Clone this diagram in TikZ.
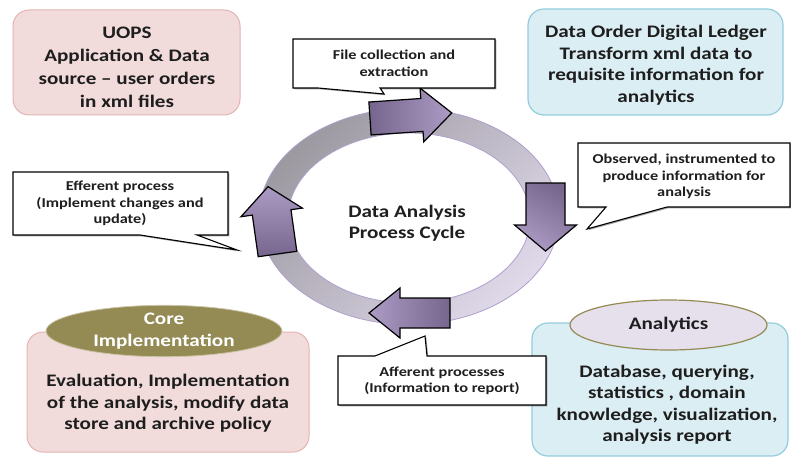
\documentclass[tikz,border=0pt]{standalone}
\usepackage{fontspec}
\setmainfont{Carlito}[FakeStretch=1.2]
\usetikzlibrary{shapes.geometric,shadows}

\definecolor{pinkfill}{HTML}{F2DCDB}
\definecolor{pinkline}{HTML}{E3B3B2}
\definecolor{bluefill}{HTML}{DBEEF4}
\definecolor{blueline}{HTML}{93CDDD}
\definecolor{olive}{HTML}{948A54}
\definecolor{oliveline}{HTML}{C9C3A3}
\definecolor{lavfill}{HTML}{E5E0EC}
\definecolor{arrdark}{HTML}{76658C}
\definecolor{arrlight}{HTML}{AC9CC5}
\definecolor{ringdark}{HTML}{9C99A1}
\definecolor{ringlight}{HTML}{E0D9EA}
\definecolor{ringline}{HTML}{AE9FCC}
\definecolor{ink}{HTML}{1E1E1E}

\tikzset{
  boxtext/.style={font=\fontsize{17.6}{21.5}\selectfont\bfseries, text=ink, align=center, inner sep=0pt},
  calltext/.style={font=\fontsize{13.6}{16.5}\selectfont\bfseries, text=ink, align=center, inner sep=0pt},
  pinkbox/.style={draw=pinkline, fill=pinkfill, line width=1pt, rounded corners=16pt, inner sep=0pt},
  bluebox/.style={draw=blueline, fill=bluefill, line width=1.2pt, rounded corners=16pt, inner sep=0pt},
  callout/.style={draw=black, fill=white, line width=1.1pt, line join=miter,
    drop shadow={shadow xshift=1.3pt, shadow yshift=-1.3pt, fill=black, opacity=0.35}},
  blockarrow/.style={draw=black, line width=1.2pt, line join=miter},
  coreell/.style={ellipse, fill=olive, draw=oliveline, line width=0.8pt, inner sep=0pt,
    font=\fontsize{17.6}{22}\selectfont\bfseries, text=white, align=center},
  analell/.style={ellipse, fill=lavfill, draw=olive, line width=1.2pt, inner sep=0pt,
    font=\fontsize{17.6}{22}\selectfont\bfseries, text=ink, align=center},
}

\begin{document}
\begin{tikzpicture}[x=1pt,y=-1pt]
\useasboundingbox (0,0) rectangle (791,457);

% cycle ring
\shade[top color=ringdark, bottom color=ringlight, shading angle=45]
  (409,216.5) ellipse [x radius=150, y radius=108];
\fill[white] (409,218) ellipse [x radius=121, y radius=85];
\draw[ringline, line width=0.8pt] (409,216.5) ellipse [x radius=150, y radius=108];
\draw[ringline, line width=0.8pt] (409,218) ellipse [x radius=121, y radius=85];

% block arrows on the ring (shading runs from the tail, dark, to the head, light)
\begin{scope}[shift={(370,118.5)}, rotate=3.9]
  \shadedraw[blockarrow, left color=arrdark, right color=arrlight]
    (0,-16.5) -- (52,-16.5) -- (52,-27) -- (82,0) -- (52,27) -- (52,16.5) -- (0,16.5) -- cycle;
\end{scope}
\begin{scope}[shift={(545.5,183)}, rotate=-90]
  \shadedraw[blockarrow, top color=arrdark, bottom color=arrlight, shading angle=-30]
    (0,-19.5) -- (42,-19.5) -- (42,-31) -- (68,0) -- (42,31) -- (42,19.5) -- (0,19.5) -- cycle;
\end{scope}
\begin{scope}[shift={(450,313)}, rotate=180]
  \shadedraw[blockarrow, left color=arrlight, right color=arrdark]
    (0,-15) -- (50,-15) -- (50,-25) -- (81,0) -- (50,25) -- (50,15) -- (0,15) -- cycle;
\end{scope}
\begin{scope}[shift={(277.5,254)}, rotate=98]
  \shadedraw[blockarrow, top color=arrlight, bottom color=arrdark]
    (0,-19.5) -- (42,-19.5) -- (42,-31) -- (68,0) -- (42,31) -- (42,19.5) -- (0,19.5) -- cycle;
\end{scope}

% boxes
\node[pinkbox, minimum width=227pt, minimum height=105pt] (uops) at (126.5,62.5) {};
\node[bluebox, minimum width=255pt, minimum height=106pt] (dodl) at (655.5,62) {};
\node[pinkbox, minimum width=282pt, minimum height=120pt] (impl) at (168,392) {};
\node[bluebox, minimum width=256pt, minimum height=133pt] (anal) at (660,389.5) {};

% titled ellipses
\node[coreell, minimum width=236pt, minimum height=48pt] (core) at (164,331) {Core\\Implementation};
\node[analell, minimum width=197pt, minimum height=50pt] (analytics) at (668.5,325) {Analytics};

% callouts
\path[callout] (293,39) -- (495,39) -- (495,88) -- (380,88) -- (384,94) -- (318,88) -- (293,88) -- cycle;
\path[callout] (578,143) -- (790,143) -- (790,207) -- (667,207) -- (587,229) -- (606,207) -- (578,207) -- cycle;
\path[callout] (13,172) -- (228,172) -- (228,235) -- (197,235) -- (237,250) -- (140,235) -- (13,235) -- cycle;
\path[callout] (338,356) -- (375,356) -- (425,336) -- (427,356) -- (546,356) -- (546,405) -- (338,405) -- cycle;

% texts
\node[boxtext, font=\fontsize{17.6}{23}\selectfont\bfseries] (uopsT) at (127,67)
  {UOPS\\Application \& Data\\source – user orders\\in xml files};
\node[boxtext] (dodlT) at (656,65)
  {Data Order Digital Ledger\\Transform xml data to\\requisite information for\\analytics};
\node[boxtext, font=\fontsize{17.6}{21}\selectfont\bfseries] (cycleT) at (407,223.5)
  {Data Analysis\\Process Cycle};
\node[boxtext] (implT) at (168,403.5)
  {Evaluation, Implementation\\of the analysis, modify data\\store and archive policy};
\node[boxtext] (analT) at (667,404.5)
  {Database, querying,\\statistics , domain\\knowledge, visualization,\\analysis report};

\node[calltext, font=\fontsize{13.6}{17}\selectfont\bfseries] (fileT) at (394,63) {File collection and\\extraction};
\node[calltext] (obsT) at (684,176.5) {Observed, instrumented to\\produce information for\\analysis};
\node[calltext] (effT) at (120,203.5) {Efferent process\\(Implement changes and\\update)};
\node[calltext] (affT) at (442,381) {Afferent processes\\(Information to report)};
\end{tikzpicture}
\end{document}
